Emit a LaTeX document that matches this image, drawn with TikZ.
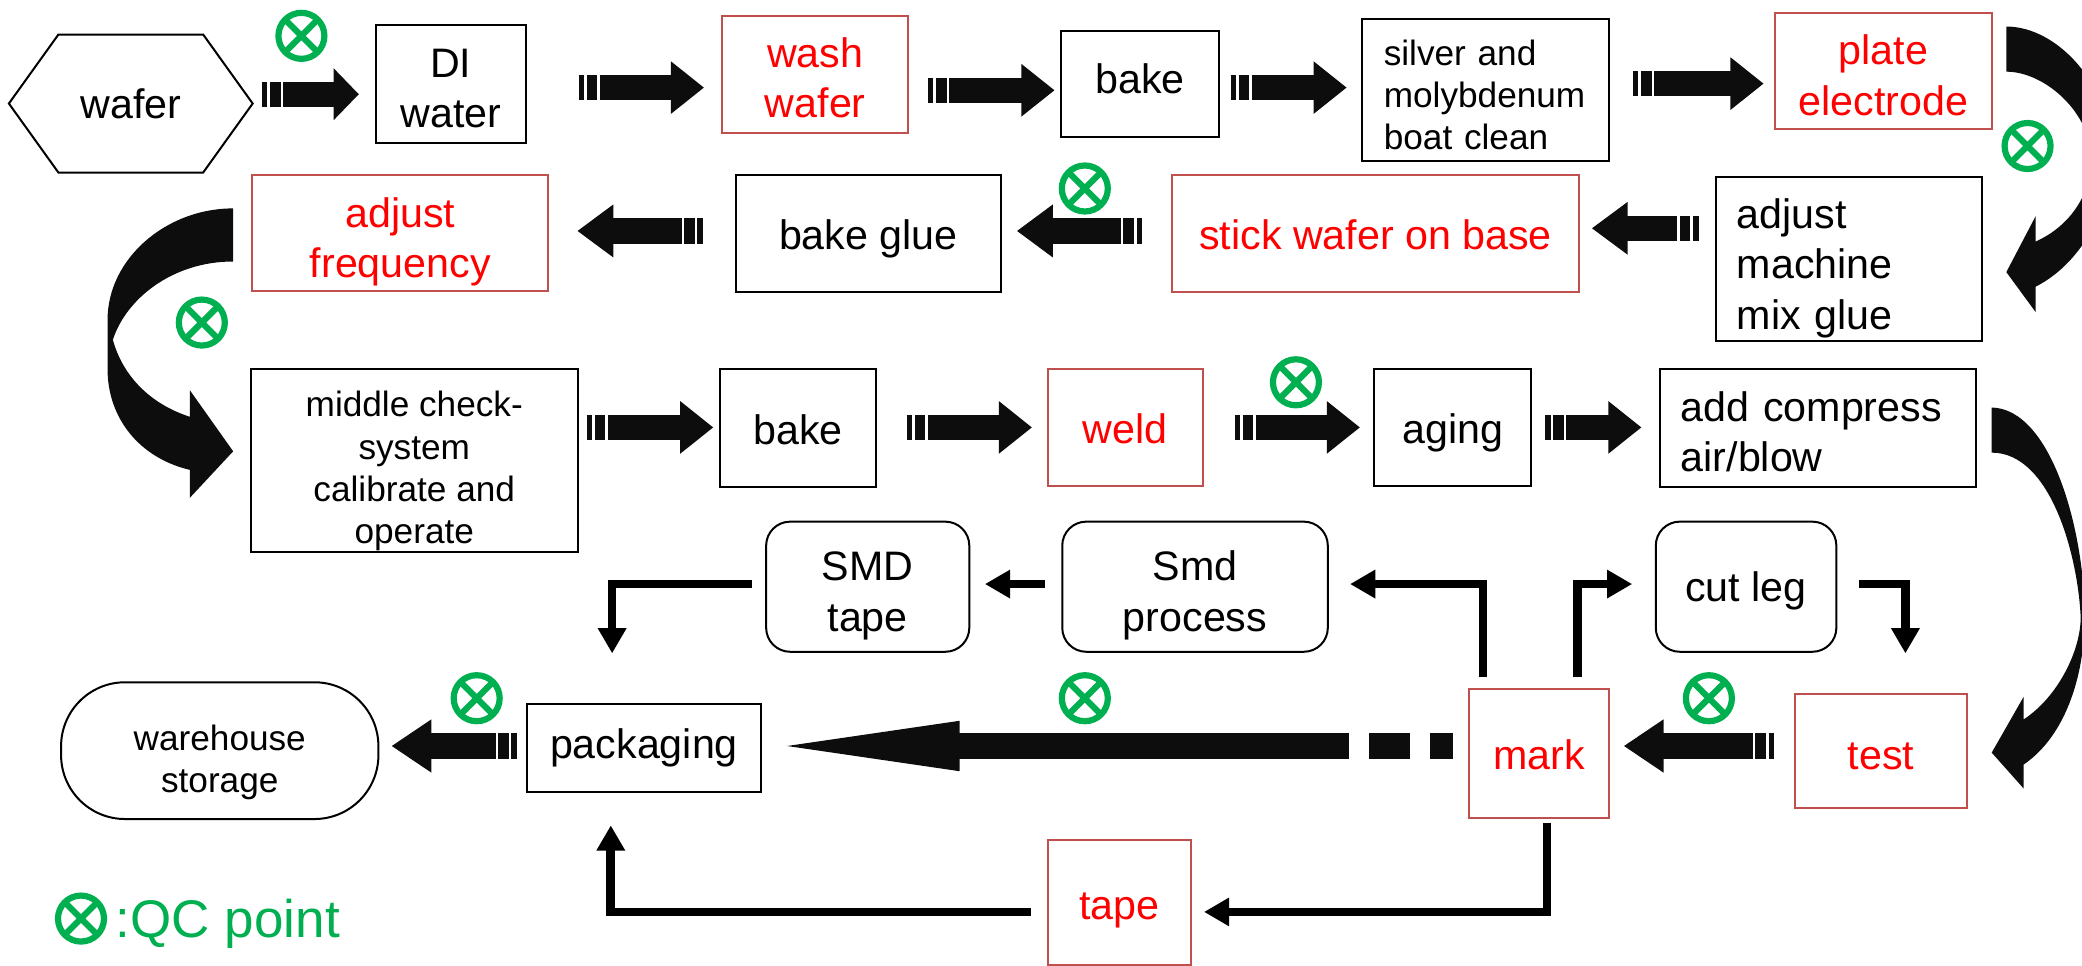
\documentclass[tikz,border=0pt]{standalone}
\usepackage{fontspec}
\setmainfont{Liberation Sans}
\usetikzlibrary{arrows.meta,calc}
\definecolor{qcgreen}{HTML}{00B050}
\definecolor{redline}{HTML}{C0504D}
\definecolor{arrowblack}{HTML}{0D0D0D}
\newcommand{\pxu}{0.6639pt}
\newcommand{\bnode}[7]{\node[#1,minimum width={(#5-#3)*\pxu},minimum height={(#6-#4)*\pxu}] (#2) at ({(#3+#5)/2},{(#4+#6)/2}) {#7};}
\newcommand{\tdn}[1]{\rule{0pt}{#1}}
\newcommand{\tup}[1]{\rule[-#1]{0pt}{0pt}}
\tikzset{
  bigtext/.style={font=\fontsize{20.6}{25.2}\selectfont},
  smalltext/.style={font=\fontsize{17.6}{21.2}\selectfont},
  plain/.style={draw=black,line width=1pt,inner sep=0pt,align=center,bigtext},
  hot/.style={draw=redline,line width=1pt,inner sep=0pt,align=center,bigtext,text=red},
  round/.style={plain,rounded corners=12pt},
  leftin/.style={align=left,inner xsep=10.5pt,text width=#1},
  barrow/.style={draw=arrowblack,line width=12.6pt,dash pattern=on 2.7pt off 1.4pt on 5.3pt off 1.2pt on 2000pt,-{Triangle[length=#1,width=25.2pt]}},
  barrow/.default=16.6pt,
  bigshaft/.style={draw=arrowblack,line width=12.6pt,dash pattern=on 11.3pt off 10pt on 20.6pt off 10pt on 2000pt},
  tarrow/.style={draw=black,line width=4.3pt,-{Triangle[length=12.6pt,width=13.5pt]}},
  bendarrow/.style={fill=arrowblack},
  qc/.style={circle,draw=qcgreen,line width=3.1pt,minimum size=23pt,inner sep=0pt,
    path picture={\draw[qcgreen,line width=3.1pt]
      (path picture bounding box.north west)--(path picture bounding box.south east)
      (path picture bounding box.north east)--(path picture bounding box.south west);}},
}
\begin{document}
\begin{tikzpicture}[x=0.6639pt,y=-0.66369pt]
\useasboundingbox (0,0) rectangle (1568,727);
% process nodes
\bnode{inner sep=0pt,bigtext}{wafer}{7}{26}{190}{130}{wafer}
\draw[black,line width=1pt] (wafer.west) -- (44,26) -- (153,26) -- (wafer.east) -- (153,130) -- (44,130) -- cycle;
\bnode{plain}{di}{283}{19}{396}{108}{\tdn{18.4pt}DI\\water}
\bnode{hot}{wash}{544}{12}{684}{100}{\tdn{18.4pt}wash\\wafer}
\bnode{plain}{bakeA}{799}{23}{918}{103}{\tup{5.3pt}bake}
\bnode{plain,smalltext,leftin=102pt}{silver}{1026}{14}{1212}{121}{\tdn{18pt}silver and\\molybdenum\\boat clean}
\bnode{hot}{plate}{1337}{10}{1500}{97}{\tdn{19pt}plate\\electrode}
\bnode{plain,leftin=112pt}{machine}{1292}{133}{1493}{257}{\tdn{24.3pt}adjust\\machine\\mix glue}
\bnode{hot}{stick}{883}{132}{1189}{220}{\tdn{16.4pt}stick wafer on base}
\bnode{plain}{glue}{554}{132}{754}{220}{\tdn{20.3pt}bake glue}
\bnode{hot}{freq}{190}{132}{413}{219}{\tdn{23.6pt}adjust\\frequency}
\bnode{plain,smalltext}{middle}{189}{278}{435}{416}{\tdn{23.3pt}middle check-\\system\\calibrate and\\operate}
\bnode{plain}{bakeB}{542}{278}{660}{367}{\tdn{16.4pt}bake}
\bnode{hot}{weld}{789}{278}{906}{366}{\tdn{16.4pt}weld}
\bnode{plain}{aging}{1035}{278}{1153}{366}{\tdn{20.3pt}aging}
\bnode{plain,leftin=137pt}{add}{1250}{278}{1488}{367}{\tdn{18.4pt}add compress\\air/blow}
\bnode{round}{smdp}{800}{393}{1000}{491}{\tdn{23.6pt}Smd\\process}
\bnode{round}{smdt}{577}{393}{730}{491}{\tdn{23.6pt}SMD\\tape}
\bnode{round}{cut}{1247}{393}{1383}{491}{\tdn{19pt}cut leg}
\bnode{plain,smalltext,rounded corners=32pt}{store}{46}{514}{285}{617}{\tdn{24.7pt}warehouse\\storage}
\bnode{plain}{pack}{397}{530}{573}{597}{\tup{2pt}packaging}
\bnode{hot}{mark}{1106}{519}{1212}{616}{\tdn{16.4pt}mark}
\bnode{hot}{test}{1352}{523}{1481}{609}{\tdn{18.6pt}test}
\bnode{hot}{tape}{789}{633}{897}{727}{\tdn{21.4pt}tape}
% straight block connectors
\draw[barrow=12.6pt] ($(wafer.east)+(7,-7)$) -- ($(di.west)+(-12,7.5)$);
\draw[barrow] ($(di.east)+(39,2.5)$) -- ($(wash.west)+(-13,10)$);
\draw[barrow] ($(wash.east)+(14,12)$) -- ($(bakeA.west)+(-4,5)$);
\draw[barrow] ($(bakeA.east)+(8,3)$) -- ($(silver.west)+(-11,-1.5)$);
\draw[barrow] ($(silver.east)+(17,-4.5)$) -- ($(plate.west)+(-8,9.5)$);
\draw[barrow=18pt] ($(machine.west)+(-12,-23)$) -- ($(stick.east)+(9,-4)$);
\draw[barrow=18pt] ($(stick.west)+(-22,-2)$) -- ($(glue.east)+(11,-2)$);
\draw[barrow=18pt] ($(glue.west)+(-24,-2)$) -- ($(freq.east)+(21,-1.5)$);
\draw[barrow] ($(middle.east)+(6,-25)$) -- ($(bakeB.west)+(-4,-.5)$);
\draw[barrow] ($(bakeB.east)+(22,-.5)$) -- ($(weld.west)+(-11,0)$);
\draw[barrow] ($(weld.east)+(23,0)$) -- ($(aging.west)+(-10,0)$);
\draw[barrow] ($(aging.east)+(10,0)$) -- ($(add.west)+(-13,-.5)$);
\draw[barrow=20pt] ($(test.west)+(-15,-4)$) -- ($(mark.east)+(10,-5.5)$);
\draw[barrow=20pt] ($(pack.west)+(-7,-1.5)$) -- ($(store.east)+(9,-3.5)$);
\draw[bigshaft] ($(mark.west)+(-11,-5.5)$) -- ($(pack.east)+(130,-1.5)$);
\fill[arrowblack] ($(pack.east)+(19,-1.5)$) -- ($(pack.east)+(149,-20.5)$) -- ($(pack.east)+(149,17.5)$) -- cycle;
% thin elbow connectors
\draw[tarrow] ($(mark.north)+(-42,-8)$) |- ($(smdp.east)+(16,-2)$);
\draw[tarrow] ($(mark.north)+(29,-8)$) |- ($(cut.west)+(-17,-2)$);
\draw[tarrow] ($(cut.east)+(16,-2)$) -| ($(test.north)+(18.5,-30)$);
\draw[tarrow] ($(smdp.west)+(-12,-2)$) -- ($(smdt.east)+(11,-2)$);
\draw[tarrow] ($(smdt.west)+(-10,-2)$) -| ($(pack.north)+(-24,-37)$);
\draw[tarrow] ($(mark.south)+(6,3)$) |- ($(tape.east)+(9,7)$);
\draw[tarrow] ($(tape.west)+(-12,7)$) -| ($(pack.south)+(-25,24)$);
% curved block arrows
\begin{scope}
\clip (0,0) rectangle (1568,727);
\path[bendarrow] (1511,20) .. controls (1550,20) and (1590,65) .. (1590,115) .. controls (1590,160) and (1565,200) .. (1533,216) -- (1533,235) -- (1511,205) -- (1533,163) -- (1533,182) .. controls (1560,170) and (1575,145) .. (1575,120) .. controls (1575,85) and (1540,54) .. (1511,54) -- cycle;
\path[bendarrow] (175.6,157) .. controls (125,157) and (81,195) .. (81,241) -- (81,278) .. controls (81,315) and (105,345) .. (143,354) -- (143,375) -- (175.6,340) -- (143,294) -- (143,314) .. controls (115,305) and (93,285) .. (85,256) .. controls (95,225) and (130,197) .. (175.6,197) -- cycle;
\path[bendarrow] (1500,307) .. controls (1545,308) and (1570,400) .. (1570,465) .. controls (1570,510) and (1555,555) .. (1524,576) -- (1524,594) -- (1500,567) -- (1524,525) -- (1524,542) .. controls (1550,525) and (1567,490) .. (1567,465) .. controls (1565,420) and (1545,341) .. (1500,341) -- cycle;
\end{scope}
% QC points
\node[qc] (q1) at (227,27) {};
\node[qc] (q2) at (1527,110) {};
\node[qc] (q3) at (817,142) {};
\node[qc] (q4) at (152,243) {};
\node[qc] (q5) at (976,288) {};
\node[qc] (q6) at (359,526) {};
\node[qc] (q7) at (817,526) {};
\node[qc] (q8) at (1287,526) {};
\node[qc] (q9) at (61,692) {};
\node[anchor=west,inner sep=0pt,text=qcgreen,font=\fontsize{26.5}{30}\selectfont] (legend) at (87,696) {:QC point};
\end{tikzpicture}
\end{document}
